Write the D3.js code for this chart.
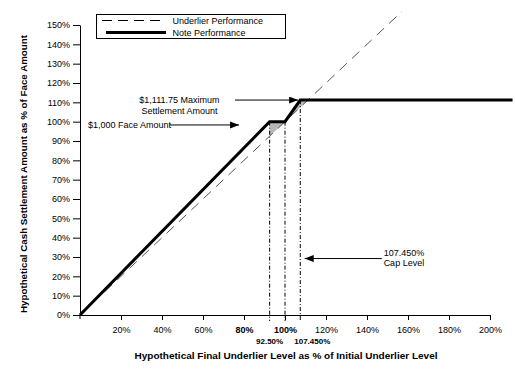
<!DOCTYPE html>
<html><head><meta charset="utf-8">
<script src="https://cdn.jsdelivr.net/npm/d3@7/dist/d3.min.js"></script>
<style>
html,body{margin:0;padding:0;background:#fff;}
svg{display:block;font-family:"Liberation Sans",Arial,sans-serif;}
</style></head>
<body>
<svg id="chart" width="515" height="380"></svg>
<script>
// ---- data ----
const xTicks = [20, 40, 60, 80, 100, 120, 140, 160, 180, 200];
const xTickLabels = ["20%", "40%", "60%", "80%", "100%", "120%", "140%", "160%", "180%", "200%"];
const boldXTicks = [80, 100];
const yTicks = [0, 10, 20, 30, 40, 50, 60, 70, 80, 90, 100, 110, 120, 130, 140, 150];
const yTickLabels = yTicks.map(v => v + "%");
const noteX = [0, 92.5, 100, 107.45, 211];
const noteY = [0, 100, 100, 111.175, 111.175];
const underlierX = [0, 157];
const underlierY = [0, 157];
const markerLevels = [92.5, 100, 107.45];
const markerTops = [100, 100, 111.175];
const markerLabels = ["92.50%", "", "107.450%"];
const shadeA = [[92.5, 100], [100, 100], [92.5, 92.5]];
const shadeB = [[100, 100], [107.45, 111.175], [111.175, 111.175]];
const legendLabels = ["Underlier Performance", "Note Performance"];

const svg = d3.select("#chart");
const x = d3.scaleLinear().domain([0, 200]).range([80, 490]);
const y = d3.scaleLinear().domain([0, 150]).range([315, 25]);

// arrow marker
svg.append("defs").append("marker")
  .attr("id", "ah").attr("markerUnits", "userSpaceOnUse")
  .attr("markerWidth", 10).attr("markerHeight", 8)
  .attr("refX", 9).attr("refY", 3.5).attr("orient", "auto")
  .append("path").attr("d", "M0,0 L9,3.5 L0,7 Z").attr("fill", "#000");

// shaded regions
const area = d3.line().x(d => x(d[0])).y(d => y(d[1]));
[shadeA, shadeB].forEach(s => {
  svg.append("path").attr("d", area(s) + "Z").attr("fill", "#b8b8b8").attr("stroke", "none");
});

// vertical marker lines
markerLevels.forEach((m, i) => {
  svg.append("line")
    .attr("x1", x(m)).attr("x2", x(m))
    .attr("y1", y(markerTops[i])).attr("y2", y(0) + 6)
    .attr("stroke", "#000").attr("stroke-width", 1)
    .attr("stroke-dasharray", "4,2,1,2");
});

// underlier dashed line
const line = d3.line().x(d => x(d[0])).y(d => y(d[1]));
svg.append("path")
  .attr("d", line(underlierX.map((v, i) => [v, underlierY[i]])))
  .attr("fill", "none").attr("stroke", "#555").attr("stroke-width", 1)
  .attr("stroke-dasharray", "10,7");

// note line
svg.append("path")
  .attr("d", line(noteX.map((v, i) => [v, noteY[i]])))
  .attr("fill", "none").attr("stroke", "#000").attr("stroke-width", 3)
  .attr("stroke-linejoin", "miter");

// axes
const yAxis = svg.append("g").attr("transform", `translate(${x(0)},0)`)
  .call(d3.axisLeft(y).tickValues(yTicks).tickFormat((d, i) => yTickLabels[i]).tickSize(7).tickPadding(3).tickSizeOuter(0));
yAxis.select(".domain").attr("stroke", "#000");
yAxis.selectAll("text").attr("font-size", "9px").attr("fill", "#000").attr("font-family", "Liberation Sans, Arial, sans-serif");

const xAxis = svg.append("g").attr("transform", `translate(0,${y(0)})`)
  .call(d3.axisBottom(x).tickValues(xTicks).tickFormat((d, i) => xTickLabels[i]).tickSize(5).tickPadding(7).tickSizeOuter(0));
xAxis.select(".domain").attr("stroke", "#000");
xAxis.selectAll("text").attr("font-size", "9px").attr("fill", "#000")
  .attr("font-family", "Liberation Sans, Arial, sans-serif")
  .attr("font-weight", d => boldXTicks.includes(d) ? "bold" : "normal");
// small tick at origin below axis
svg.append("line").attr("x1", x(0)).attr("x2", x(0)).attr("y1", y(0)).attr("y2", y(0) + 4).attr("stroke", "#000");

// marker labels below axis
markerLevels.forEach((m, i) => {
  if (!markerLabels[i]) return;
  svg.append("text")
    .attr("x", x(m) + (i === 2 ? 12 : 0)).attr("y", y(0) + 29)
    .attr("text-anchor", "middle").attr("font-size", "8px").attr("font-weight", "bold")
    .text(markerLabels[i]);
});

// axis titles
svg.append("text").attr("x", 286).attr("y", 359)
  .attr("text-anchor", "middle").attr("font-size", "9.5px").attr("font-weight", "bold")
  .attr("textLength", 303).attr("lengthAdjust", "spacingAndGlyphs")
  .text("Hypothetical Final Underlier Level as % of Initial Underlier Level");
svg.append("text").attr("transform", "translate(27,174) rotate(-90)")
  .attr("text-anchor", "middle").attr("font-size", "9.5px").attr("font-weight", "bold")
  .attr("textLength", 278).attr("lengthAdjust", "spacingAndGlyphs")
  .text("Hypothetical Cash Settlement Amount as % of Face Amount");

// legend
const lg = svg.append("g");
lg.append("rect").attr("x", 96.5).attr("y", 14.5).attr("width", 189).attr("height", 24)
  .attr("fill", "#fff").attr("stroke", "#000").attr("stroke-width", 1);
lg.append("line").attr("x1", 102).attr("x2", 166).attr("y1", 20.5).attr("y2", 20.5)
  .attr("stroke", "#000").attr("stroke-width", 1).attr("stroke-dasharray", "10,6");
lg.append("line").attr("x1", 106).attr("x2", 166).attr("y1", 32.5).attr("y2", 32.5)
  .attr("stroke", "#000").attr("stroke-width", 3);
legendLabels.forEach((t, i) => {
  lg.append("text").attr("x", 172.5).attr("y", 24 + i * 12).attr("font-size", "9px").text(t);
});

// annotations
function arrow(x1, y1, x2, y2) {
  svg.append("line").attr("x1", x(x1)).attr("y1", y(y1)).attr("x2", x(x2)).attr("y2", y(y2))
    .attr("stroke", "#000").attr("stroke-width", 1).attr("marker-end", "url(#ah)");
}
svg.append("text").attr("x", x(48.5)).attr("y", y(109.6)).attr("text-anchor", "middle").attr("font-size", "9px").text("$1,111.75 Maximum");
svg.append("text").attr("x", x(48.5)).attr("y", y(104.1)).attr("text-anchor", "middle").attr("font-size", "9px").text("Settlement Amount");
arrow(75.6, 111.175, 106.4, 111.175);

svg.append("text").attr("x", x(3.9)).attr("y", y(96.6)).attr("font-size", "9px").text("$1,000 Face Amount");
arrow(43.6, 98.3, 77.6, 98.3);

svg.append("text").attr("x", x(158)).attr("y", y(30.4)).attr("text-anchor", "middle").attr("font-size", "9px").text("107.450%");
svg.append("text").attr("x", x(158)).attr("y", y(25.2)).attr("text-anchor", "middle").attr("font-size", "9px").text("Cap Level");
arrow(147.2, 29.2, 109.6, 29.2);
</script>
</body></html>
